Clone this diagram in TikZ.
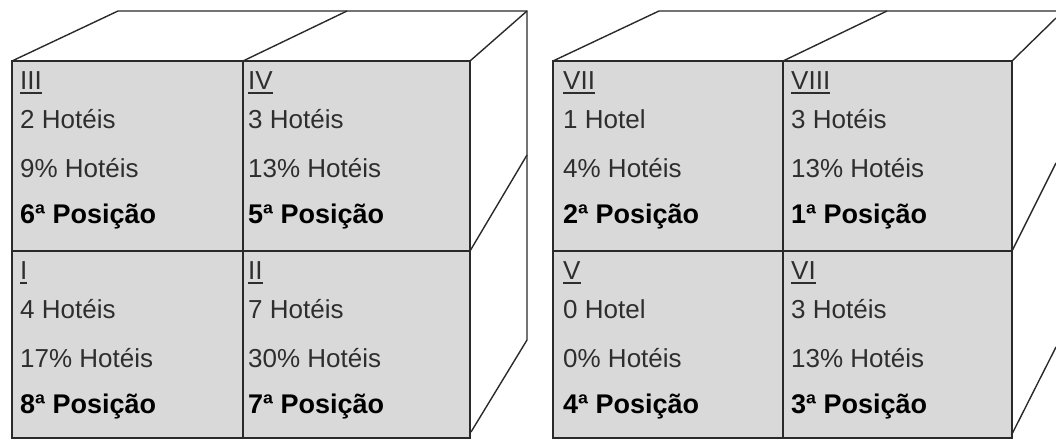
\documentclass[tikz,border=0pt]{standalone}
\usepackage{fontspec}
\setmainfont{Liberation Sans}
\definecolor{facegray}{HTML}{D9D9D9}
\definecolor{linecol}{HTML}{2A2A2A}
\definecolor{txtgray}{HTML}{2E2E2E}
\newcommand{\ulnum}[1]{\setbox0\hbox{#1}\rlap{\rule[-4.5pt]{\wd0}{1.6pt}}\box0}
\tikzset{
  edge/.style={draw=linecol, line width=1.4pt, line join=miter},
  frontface/.style={fill=facegray, draw=linecol, line width=1.4pt},
  reg/.style={anchor=base west, inner sep=0pt, text=txtgray, font=\fontsize{26}{30}\selectfont},
  numtxt/.style={anchor=base west, inner sep=0pt, text=txtgray, font=\fontsize{26}{30}\selectfont},
  boldtxt/.style={anchor=base west, inner sep=0pt, text=black, font=\fontsize{27}{30}\selectfont\bfseries},
}
\newcommand{\hcell}[7]{%
  \node[numtxt] (#1n) at (#2+8,#3+28) {\ulnum{#4}};
  \node[reg] (#1a) at (#2+8,#3+67) {#5};
  \node[reg] (#1b) at (#2+8,#3+116) {#6};
  \node[boldtxt] (#1c) at (#2+8,#3+162) {#7};
}
\begin{document}
\begin{tikzpicture}[x=1pt,y=-1pt]
\useasboundingbox (0,0) rectangle (1056,442);
% ---- left cube ----
\draw[edge] (12,61) -- (118,11) -- (527,11) -- (527,340) -- (471,432);
\draw[edge] (243,61) -- (347,11);
\draw[edge] (470,61) -- (527,11);
\draw[edge] (470,251) -- (527,155);
\draw[frontface] (12,61) rectangle (470,438);
\draw[edge] (243,61) -- (243,438);
\draw[edge] (12,251) -- (470,251);
% ---- right cube ----
\draw[edge] (553,61) -- (659,11) -- (1057,11);
\draw[edge] (783,61) -- (887,11);
\draw[edge] (1012,61) -- (1056,18);
\draw[edge] (1012,251) -- (1056,163);
\draw[edge] (1012,434) -- (1056,347);
\draw[frontface] (553,61) rectangle (1012,438);
\draw[edge] (783,61) -- (783,438);
\draw[edge] (553,251) -- (1012,251);
% ---- texts ----
\hcell{c3}{12}{61}{III}{2 Hotéis}{9\% Hotéis}{6ª Posição}
\hcell{c4}{240}{61}{IV}{3 Hotéis}{13\% Hotéis}{5ª Posição}
\hcell{c1}{12}{251}{I}{4 Hotéis}{17\% Hotéis}{8ª Posição}
\hcell{c2}{240}{251}{II}{7 Hotéis}{30\% Hotéis}{7ª Posição}
\hcell{c7}{555}{61}{VII}{1 Hotel}{4\% Hotéis}{2ª Posição}
\hcell{c8}{783}{61}{VIII}{3 Hotéis}{13\% Hotéis}{1ª Posição}
\hcell{c5}{555}{251}{V}{0 Hotel}{0\% Hotéis}{4ª Posição}
\hcell{c6}{783}{251}{VI}{3 Hotéis}{13\% Hotéis}{3ª Posição}
\end{tikzpicture}
\end{document}
